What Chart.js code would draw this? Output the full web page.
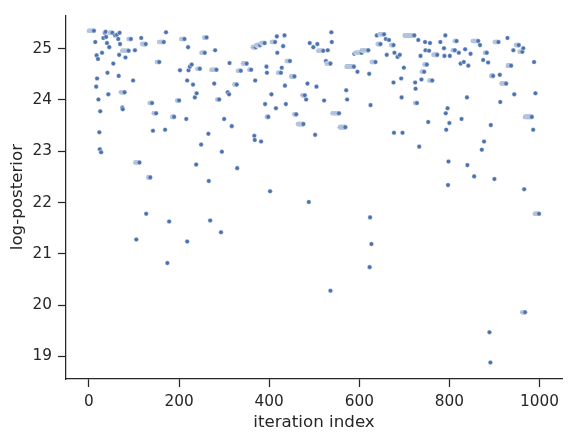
<!DOCTYPE html>
<html>
<head>
<meta charset="utf-8">
<script src="https://cdn.jsdelivr.net/npm/chart.js@4.4.1/dist/chart.umd.min.js"></script>
<style>
  html, body { margin: 0; padding: 0; background: #ffffff; }
</style>
</head>
<body>
<canvas id="myChart" width="572" height="441"></canvas>
<script>
// sampler states: the chain sits at runLogPost[k]
// from iteration runStart[k] to runEnd[k]
const runStart = [
  0, 14, 16, 17, 18, 20, 21, 23, 24, 25,
  27, 29, 32, 35, 37, 38, 40, 41, 43, 45,
  46, 54, 58, 62, 65, 66, 67, 68, 69, 71,
  74, 75, 74, 81, 88, 98, 102, 103, 105, 116,
  118, 127, 132, 135, 142, 144, 151, 156, 169, 171,
  174, 178, 185, 196, 202, 205, 216, 218, 218, 220,
  221, 224, 228, 231, 235, 238, 239, 241, 249, 250,
  256, 265, 266, 269, 272, 278, 280, 285, 293, 295,
  300, 308, 311, 312, 317, 323, 329, 331, 342, 356,
  364, 367, 368, 369, 372, 382, 383, 391, 394, 395,
  395, 402, 405, 406, 415, 417, 418, 420, 428, 431,
  434, 435, 437, 439, 449, 456, 464, 474, 482, 485,
  488, 490, 498, 502, 505, 507, 509, 522, 526, 528,
  530, 536, 538, 539, 541, 557, 571, 572, 573, 589,
  592, 596, 606, 622, 624, 623, 625, 627, 628, 639,
  641, 646, 659, 661, 666, 671, 676, 677, 678, 685,
  690, 693, 694, 696, 699, 701, 724, 725, 724, 731,
  733, 736, 738, 739, 745, 746, 747, 753, 755, 756,
  757, 765, 780, 789, 788, 791, 792, 793, 796, 798,
  797, 800, 801, 808, 812, 821, 825, 827, 832, 835,
  839, 840, 842, 847, 852, 855, 868, 872, 875, 877,
  879, 886, 889, 891, 892, 893, 900, 901, 912, 913,
  916, 929, 930, 942, 944, 948, 956, 962, 964, 966,
  968, 986, 988, 990, 991
];
const runEnd = [
  11, 14, 16, 17, 18, 20, 21, 23, 24, 25,
  27, 29, 32, 35, 37, 38, 40, 41, 43, 45,
  52, 54, 58, 62, 65, 66, 67, 68, 69, 79,
  74, 75, 88, 81, 93, 98, 102, 112, 105, 116,
  126, 127, 136, 140, 142, 149, 156, 166, 169, 171,
  174, 178, 189, 200, 202, 212, 216, 218, 218, 220,
  221, 224, 228, 231, 235, 238, 239, 246, 249, 257,
  261, 265, 266, 269, 283, 278, 280, 289, 293, 295,
  300, 308, 311, 312, 317, 328, 329, 337, 350, 360,
  370, 367, 368, 369, 380, 382, 390, 391, 394, 395,
  398, 402, 405, 413, 415, 417, 418, 426, 428, 431,
  434, 435, 437, 446, 456, 460, 476, 479, 482, 485,
  488, 490, 498, 502, 505, 507, 520, 522, 526, 536,
  530, 536, 538, 539, 555, 569, 571, 588, 573, 589,
  605, 596, 620, 622, 624, 623, 625, 627, 636, 639,
  647, 655, 659, 661, 666, 676, 676, 677, 678, 685,
  690, 693, 694, 696, 699, 722, 724, 725, 728, 731,
  733, 736, 738, 744, 750, 746, 747, 753, 755, 762,
  757, 773, 780, 789, 788, 791, 792, 793, 796, 798,
  797, 800, 801, 812, 816, 821, 825, 827, 832, 835,
  839, 840, 842, 847, 864, 855, 868, 872, 875, 877,
  883, 886, 889, 891, 892, 897, 900, 909, 912, 913,
  926, 929, 937, 942, 944, 954, 962, 968, 964, 966,
  983, 986, 988, 999, 991
];
const runLogPost = [
  25.35, 25.13, 24.26, 24.87, 24.42, 24.80, 24.01, 23.37, 23.04, 23.78,
  22.98, 24.92, 25.21, 25.31, 25.33, 25.23, 25.11, 24.53, 24.11, 25.03,
  25.31, 24.71, 25.26, 25.27, 25.19, 24.47, 24.88, 25.31, 25.09, 24.15,
  23.85, 23.82, 24.96, 24.83, 25.19, 24.38, 24.97, 22.78, 21.28, 25.21,
  25.09, 21.78, 22.49, 23.94, 23.40, 23.74, 24.74, 25.13, 23.42, 25.32,
  20.82, 21.63, 23.67, 23.99, 24.58, 25.19, 23.63, 24.38, 21.24, 25.03,
  24.58, 24.65, 24.69, 24.30, 24.05, 22.74, 24.13, 24.61, 23.13, 24.92,
  25.22, 23.34, 22.42, 21.65, 24.59, 24.32, 24.97, 24.01, 21.42, 22.99,
  23.63, 24.15, 24.11, 24.72, 23.49, 24.30, 22.67, 24.57, 24.71, 24.59,
  25.03, 23.30, 23.22, 24.38, 25.07, 23.19, 25.11, 23.92, 24.65, 24.53,
  23.67, 22.22, 24.11, 25.13, 23.84, 25.24, 24.92, 24.53, 24.63, 25.05,
  25.26, 24.28, 23.92, 24.76, 24.46, 23.72, 23.53, 24.09, 24.01, 24.32,
  22.01, 25.11, 25.03, 23.32, 24.26, 25.09, 24.96, 23.99, 24.76, 24.71,
  24.97, 20.28, 25.32, 25.13, 23.74, 23.47, 24.19, 24.65, 24.01, 24.90,
  24.92, 24.55, 24.97, 24.51, 21.71, 20.74, 23.90, 21.19, 24.74, 25.26,
  25.09, 25.28, 25.19, 24.88, 25.17, 25.07, 24.34, 23.36, 24.92, 24.84,
  24.88, 24.42, 24.05, 23.36, 24.63, 25.26, 24.34, 24.22, 23.94, 25.17,
  23.09, 24.86, 24.40, 24.55, 24.69, 25.13, 24.97, 23.57, 24.96, 24.38,
  25.11, 24.88, 25.13, 24.86, 25.01, 25.26, 23.74, 23.42, 23.84, 22.80,
  22.34, 23.55, 24.86, 24.97, 25.15, 24.92, 24.71, 23.63, 24.74, 24.99,
  24.05, 22.73, 24.67, 24.90, 25.15, 22.51, 25.07, 23.03, 24.78, 23.19,
  24.92, 24.73, 19.47, 18.88, 23.51, 24.47, 22.46, 25.13, 24.49, 23.96,
  24.32, 25.21, 24.67, 24.97, 24.11, 25.07, 24.94, 19.86, 25.01, 22.26,
  23.67, 23.42, 24.74, 21.78, 24.13
];
const xTicks = [0, 200, 400, 600, 800, 1000];
const yTicks = [19, 20, 21, 22, 23, 24, 25];

// one point per iteration, drawn in iteration order
const points = [];
for (let k = 0; k < runStart.length; k++) {
  for (let it = runStart[k]; it <= runEnd[k]; it++) {
    points.push({ x: it, y: runLogPost[k] });
  }
}
points.sort((a, b) => a.x - b.x);

const ink = '#262626';
const tickFont = { family: 'DejaVu Sans', size: 15.3 };
const labelFont = { family: 'DejaVu Sans', size: 16.7 };

const ctx = document.getElementById('myChart').getContext('2d');
new Chart(ctx, {
  type: 'scatter',
  data: {
    datasets: [{
      label: 'log-posterior',
      data: points,
      backgroundColor: '#4c72b0',
      borderColor: 'rgba(255, 255, 255, 0.55)',
      borderWidth: 0.8,
      pointRadius: 2.3,
      pointHoverRadius: 2.3
    }]
  },
  options: {
    responsive: false,
    animation: false,
    events: [],
    layout: { autoPadding: false, padding: { top: 10, right: 10, left: 0, bottom: 0 } },
    plugins: { legend: { display: false }, tooltip: { enabled: false } },
    scales: {
      x: {
        type: 'linear',
        min: -51,
        max: 1050,
        afterBuildTicks: s => { s.ticks = xTicks.map(v => ({ value: v })); },
        afterFit: s => { s.height = 62; },
        border: { display: true, color: ink, width: 1.25 },
        grid: { display: true, drawOnChartArea: false, drawTicks: true, tickLength: 8, tickWidth: 1.25, tickColor: ink },
        ticks: { font: tickFont, color: ink, padding: 6, maxRotation: 0, callback: v => String(v) },
        title: { display: true, text: 'iteration index', font: labelFont, color: ink, padding: { top: 0, bottom: 8 } }
      },
      y: {
        type: 'linear',
        min: 18.558,
        max: 25.654,
        afterBuildTicks: s => { s.ticks = yTicks.map(v => ({ value: v })); },
        afterFit: s => { s.width = 66; },
        border: { display: true, color: ink, width: 1.25 },
        grid: { display: true, drawOnChartArea: false, drawTicks: true, tickLength: 8, tickWidth: 1.25, tickColor: ink },
        ticks: { font: tickFont, color: ink, padding: 6, callback: v => String(v) },
        title: { display: true, text: 'log-posterior', font: labelFont, color: ink, padding: { top: 8, bottom: 0 } }
      }
    }
  }
});
</script>
</body>
</html>
